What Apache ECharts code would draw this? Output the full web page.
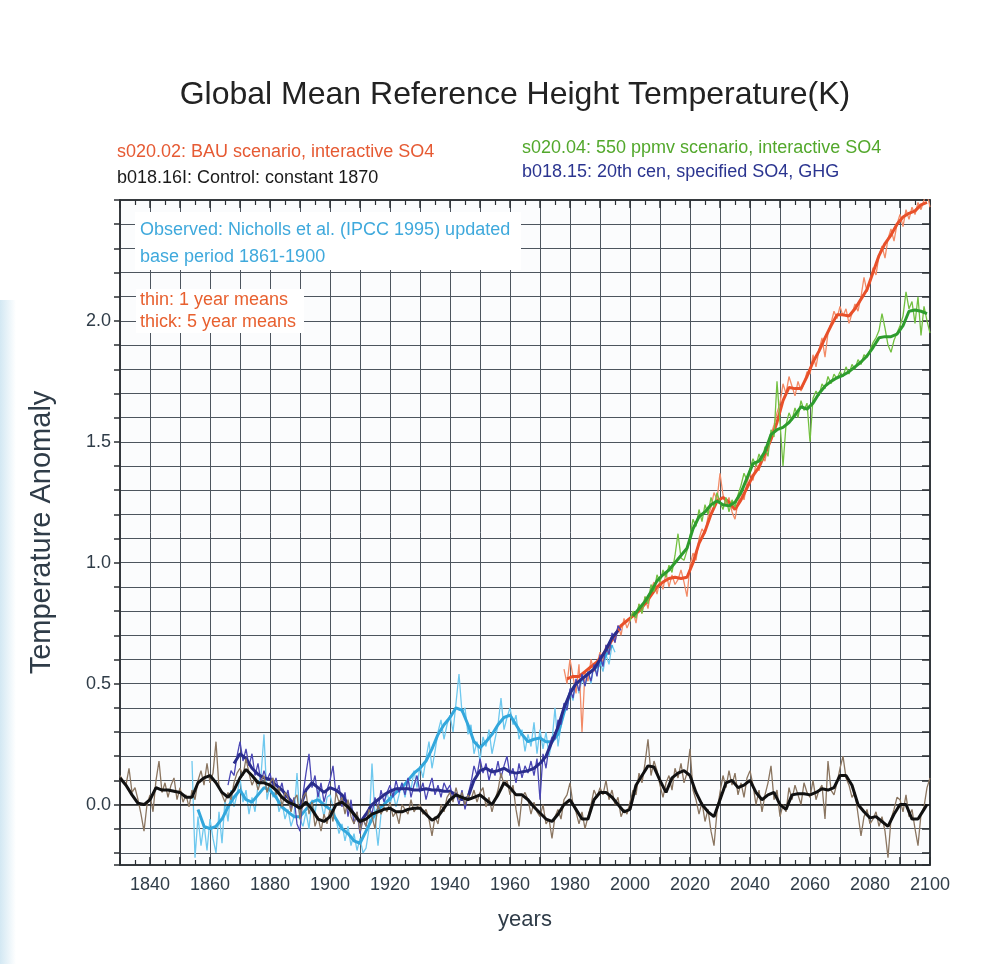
<!DOCTYPE html>
<html>
<head>
<meta charset="utf-8">
<title>Global Mean Reference Height Temperature</title>
<script src="https://cdn.jsdelivr.net/npm/echarts@6/dist/echarts.min.js"></script>
<style>
  html, body { margin: 0; padding: 0; background: #fff; }
  #chart { width: 985px; height: 964px; }
</style>
</head>
<body>
<div id="chart"></div>
<script>
// x axis: years, y axis: temperature anomaly (K)
const yearMin = 1830
const yearMax = 2100
const anomalyMin = -0.25
const anomalyMax = 2.5

// b018.16I control run, thick = 5 year means
const controlThickYears = [1830, 1832, 1834, 1836, 1838, 1840, 1842, 1844, 1846, 1848, 1850, 1852, 1854, 1856, 1858, 1860, 1862, 1864, 1866, 1868,
  1870, 1872, 1874, 1876, 1878, 1880, 1882, 1884, 1886, 1888, 1890, 1892, 1894, 1896, 1898, 1900, 1902, 1904, 1906, 1908,
  1910, 1912, 1914, 1916, 1918, 1920, 1922, 1924, 1926, 1928, 1930, 1932, 1934, 1936, 1938, 1940, 1942, 1944, 1946, 1948,
  1950, 1952, 1954, 1956, 1958, 1960, 1962, 1964, 1966, 1968, 1970, 1972, 1974, 1976, 1978, 1980, 1982, 1984, 1986, 1988,
  1990, 1992, 1994, 1996, 1998, 2000, 2002, 2004, 2006, 2008, 2010, 2012, 2014, 2016, 2018, 2020, 2022, 2024, 2026, 2028,
  2030, 2032, 2034, 2036, 2038, 2040, 2042, 2044, 2046, 2048, 2050, 2052, 2054, 2056, 2058, 2060, 2062, 2064, 2066, 2068,
  2070, 2072, 2074, 2076, 2078, 2080, 2082, 2084, 2086, 2088, 2090, 2092, 2094, 2096, 2098, 2099]
const controlThick = [0.11, 0.08, 0.04, 0.005, 0.0, 0.02, 0.07, 0.06, 0.06, 0.055, 0.05, 0.03, 0.03, 0.09, 0.11, 0.12, 0.09, 0.05, 0.03, 0.06,
  0.11, 0.145, 0.12, 0.09, 0.09, 0.08, 0.06, 0.03, 0.01, 0.0, -0.015, 0.01, -0.02, -0.06, -0.07, -0.05, 0.0, 0.01, -0.01, -0.04,
  -0.07, -0.06, -0.04, -0.03, -0.02, -0.015, -0.03, -0.03, -0.02, -0.015, -0.015, -0.04, -0.065, -0.05, -0.015, 0.02, 0.04, 0.03, 0.02, 0.03,
  0.04, 0.02, 0.0, 0.04, 0.09, 0.07, 0.04, 0.04, 0.02, -0.01, -0.035, -0.06, -0.07, -0.04, 0.0, 0.02, -0.02, -0.06, -0.06, 0.02,
  0.05, 0.05, 0.03, 0.0, -0.03, -0.02, 0.08, 0.12, 0.16, 0.155, 0.1, 0.05, 0.11, 0.13, 0.14, 0.12, 0.05, 0.0, -0.03, -0.05,
  0.02, 0.09, 0.1, 0.07, 0.08, 0.1, 0.05, 0.02, 0.04, 0.05, 0.0, -0.02, 0.04, 0.045, 0.045, 0.04, 0.05, 0.065, 0.06, 0.07,
  0.12, 0.12, 0.08, 0.0, -0.03, -0.055, -0.05, -0.07, -0.09, -0.04, 0.0, 0.0, -0.06, -0.06, -0.02, 0.0]
// thin = 1 year means, one value per year from 1830
const controlThinStart = 1830
const controlThin = [
  0.12, 0.10, 0.08, 0.15, 0.05, 0.07, 0.02, -0.04, -0.11, 0.0,
  0.04, -0.03, 0.10, 0.18, 0.05, 0.09, 0.03, 0.08, 0.11, 0.02,
  0.07, 0.01, 0.04, -0.01, 0.06, 0.02, 0.10, 0.14, 0.08, 0.17,
  0.09, 0.13, 0.26, 0.07, 0.04, 0.01, 0.05, 0.02, 0.09, 0.13,
  0.15, 0.12, 0.19, 0.13, 0.08, 0.11, 0.06, 0.10, 0.12, 0.05,
  0.09, 0.11, 0.04, 0.07, -0.01, 0.05, 0.03, -0.03, 0.02, 0.04,
  -0.06, 0.03, 0.05, -0.04, 0.01, -0.09, -0.05, -0.11, -0.04, -0.08,
  -0.02, -0.07, 0.05, 0.01, 0.03, -0.04, 0.02, -0.05, -0.08, -0.03,
  -0.11, -0.06, -0.09, -0.02, -0.05, -0.10, 0.0, -0.04, -0.01, -0.03,
  0.01, -0.05, -0.03, -0.08, 0.0, -0.02, -0.04, 0.02, -0.03, -0.01,
  0.0, -0.04, -0.02, -0.06, -0.13, -0.05, -0.08, 0.0, -0.03, 0.03,
  0.05, 0.01, 0.07, 0.02, 0.05, 0.0, 0.04, 0.02, 0.06, 0.01,
  0.05, 0.07, -0.01, 0.03, -0.03, 0.02, 0.06, 0.13, 0.08, 0.10,
  0.04, 0.08, -0.02, -0.09, 0.03, 0.05, 0.02, -0.04, 0.01, -0.03,
  -0.05, 0.0, -0.08, -0.06, -0.14, -0.05, -0.02, -0.06, 0.02, 0.04,
  0.09, 0.0, -0.03, -0.08, -0.03, -0.10, -0.05, 0.0, 0.06, 0.03,
  0.07, 0.04, 0.10, 0.02, 0.06, 0.0, 0.03, -0.05, -0.02, -0.04,
  0.01, 0.06, 0.04, 0.13, 0.09, 0.17, 0.27, 0.12, 0.18, 0.14,
  0.08, 0.03, 0.09, 0.12, 0.06, 0.15, 0.11, 0.17, 0.09, 0.13,
  0.23, 0.06, 0.02, -0.04, 0.01, -0.07, -0.02, -0.11, -0.17, -0.03,
  0.05, 0.12, 0.07, 0.14, 0.08, 0.13, 0.04, 0.09, 0.03, 0.11,
  0.14, 0.08, 0.0, 0.06, -0.03, 0.04, 0.09, 0.16, 0.02, 0.06,
  -0.05, 0.0, -0.03, 0.07, 0.02, 0.08, 0.04, 0.0, 0.09, 0.05,
  0.03, 0.10, 0.02, 0.06, 0.08, -0.06, 0.18, 0.06, 0.04, 0.09,
  0.15, 0.20, 0.11, 0.08, 0.03, 0.05, -0.04, -0.13, -0.05, -0.02,
  -0.08, -0.06, -0.03, -0.09, -0.05, -0.11, -0.22, -0.06, -0.02, 0.03,
  0.02, -0.03, 0.04, -0.05, -0.02, -0.10, -0.17, -0.04, -0.01, 0.07, 0.11]

// observed, Nicholls et al. (IPCC 1995)
const observedThickYears = [1856, 1858, 1860, 1862, 1864, 1866, 1868, 1870, 1872, 1874, 1876, 1878, 1880, 1882, 1884, 1886, 1888, 1890, 1892, 1894,
  1896, 1898, 1900, 1902, 1904, 1906, 1908, 1910, 1912, 1914, 1916, 1918, 1920, 1922, 1924, 1926, 1928, 1930, 1932, 1934,
  1936, 1938, 1940, 1942, 1944, 1946, 1948, 1950, 1952, 1954, 1956, 1958, 1960, 1962, 1964, 1966, 1968, 1970, 1972, 1974,
  1976, 1978, 1980, 1982, 1984, 1986, 1988, 1990, 1992, 1994]
const observedThick = [-0.02, -0.09, -0.10, -0.09, -0.06, -0.01, 0.03, 0.06, 0.02, 0.01, 0.04, 0.07, 0.06, 0.03, -0.01, -0.03, -0.05, -0.05, -0.02, 0.01,
  0.02, 0.0, -0.02, -0.06, -0.10, -0.12, -0.15, -0.16, -0.11, -0.06, -0.02, 0.0, 0.025, 0.05, 0.07, 0.10, 0.13, 0.15, 0.18, 0.23,
  0.29, 0.33, 0.36, 0.40, 0.39, 0.33, 0.26, 0.235, 0.26, 0.29, 0.33, 0.36, 0.37, 0.33, 0.29, 0.26, 0.27, 0.275, 0.26, 0.26,
  0.29, 0.38, 0.46, 0.50, 0.52, 0.54, 0.56, 0.58, 0.62, 0.66]
const observedThinStart = 1854
const observedThin = [
  0.18, -0.22, -0.05, -0.17, -0.08, -0.19,
  -0.06, -0.14, -0.20, -0.03, -0.16, 0.02, -0.07, 0.06, -0.01, 0.04,
  0.11, 0.01, 0.06, -0.04, 0.03, -0.03, 0.08, 0.12, 0.29, 0.02,
  0.08, 0.03, 0.06, -0.03, 0.01, -0.06, -0.02, -0.09, -0.05, 0.13,
  -0.06, -0.09, -0.03, -0.10, 0.02, -0.04, 0.06, 0.01, -0.05, 0.03,
  0.04, -0.01, -0.06, -0.12, -0.08, -0.15, -0.09, -0.17, -0.12, -0.19,
  -0.14, -0.20, -0.18, -0.10, 0.17, -0.05, -0.17, -0.04, 0.0, 0.05,
  0.0, 0.05, -0.01, 0.04, 0.09, 0.03, 0.10, 0.06, 0.14, 0.07,
  0.16, 0.11, 0.19, 0.26, 0.15, 0.22, 0.30, 0.35, 0.27, 0.33,
  0.37, 0.30, 0.42, 0.54, 0.38, 0.40, 0.29, 0.33, 0.21, 0.26,
  0.18, 0.28, 0.24, 0.31, 0.21, 0.27, 0.33, 0.44, 0.31, 0.36,
  0.40, 0.33, 0.37, 0.27, 0.31, 0.22, 0.29, 0.24, 0.34, 0.21,
  0.31, 0.23, 0.30, 0.20, 0.26, 0.40, 0.24, 0.33, 0.41, 0.39,
  0.47, 0.43, 0.51, 0.46, 0.52, 0.49, 0.55, 0.50, 0.58, 0.54,
  0.59, 0.55, 0.62, 0.58, 0.66, 0.63]

// b018.15 20th century, specified SO4, GHG
const centuryThickYears = [1868, 1870, 1872, 1874, 1876, 1878, 1880, 1882, 1884, 1886, 1888, 1890, 1892, 1894, 1896, 1898, 1900, 1902, 1904, 1906,
  1908, 1910, 1912, 1914, 1916, 1918, 1920, 1922, 1924, 1926, 1928, 1930, 1932, 1934, 1936, 1938, 1940, 1942, 1944, 1946,
  1948, 1950, 1952, 1954, 1956, 1958, 1960, 1962, 1964, 1966, 1968, 1970, 1972, 1974, 1976, 1978, 1980, 1982, 1984, 1986,
  1988, 1990, 1992, 1994, 1996]
const centuryThick = [0.17, 0.21, 0.19, 0.15, 0.125, 0.11, 0.105, 0.08, 0.06, 0.03, 0.0, -0.015, 0.06, 0.09, 0.07, 0.05, 0.07, 0.06, 0.04, 0.0,
  -0.04, -0.075, -0.04, 0.0, 0.02, 0.04, 0.055, 0.065, 0.065, 0.065, 0.06, 0.06, 0.065, 0.06, 0.06, 0.055, 0.055, 0.04, 0.02, 0.03,
  0.10, 0.14, 0.15, 0.135, 0.14, 0.15, 0.135, 0.13, 0.135, 0.14, 0.15, 0.17, 0.20, 0.26, 0.32, 0.40, 0.46, 0.50, 0.52, 0.54,
  0.56, 0.60, 0.64, 0.69, 0.72]
const centuryThinStart = 1866
const centuryThin = [
  0.08, 0.14, 0.12, 0.20,
  0.26, 0.18, 0.23, 0.16, 0.21, 0.12, 0.17, 0.09, 0.14, 0.10,
  0.13, 0.07, 0.11, 0.05, 0.09, 0.02, 0.06, -0.02, 0.03, -0.08,
  -0.11, 0.04, 0.13, 0.21, 0.07, 0.12, 0.03, 0.09, 0.01, 0.06,
  0.10, 0.16, 0.04, 0.08, -0.01, 0.05, -0.05, 0.02, -0.08, -0.03,
  -0.12, -0.06, -0.09, -0.01, -0.04, 0.03, -0.02, 0.06, 0.01, 0.05,
  0.08, 0.03, 0.10, 0.05, 0.09, 0.04, 0.11, 0.03, 0.08, 0.12,
  0.05, 0.09, 0.02, 0.07, 0.11, 0.04, 0.08, 0.03, 0.09, 0.06,
  0.08, 0.02, 0.05, 0.0, 0.06, -0.02, 0.04, 0.09, 0.16, 0.12,
  0.19, 0.13, 0.17, 0.10, 0.15, 0.12, 0.18, 0.11, 0.16, 0.20,
  0.12, 0.15, 0.09, 0.17, 0.11, 0.16, 0.13, 0.18, 0.12, 0.19,
  0.02, 0.21, 0.15, 0.24, 0.28, 0.27, 0.35, 0.33, 0.42, 0.39,
  0.48, 0.44, 0.52, 0.47, 0.54, 0.49, 0.55, 0.51, 0.58, 0.53,
  0.62, 0.57, 0.66, 0.62, 0.71, 0.67, 0.74, 0.72]

// s020.02 BAU scenario, interactive SO4
const bauThickYears = [1979, 1981, 1983, 1985, 1987, 1989, 1991, 1993, 1995, 1997, 1999, 2001, 2003, 2005, 2007, 2009, 2011, 2013, 2015, 2017,
  2019, 2021, 2023, 2025, 2027, 2029, 2031, 2033, 2035, 2037, 2039, 2041, 2043, 2045, 2047, 2049, 2051, 2053, 2055, 2057,
  2059, 2061, 2063, 2065, 2067, 2069, 2071, 2073, 2075, 2077, 2079, 2081, 2083, 2085, 2087, 2089, 2091, 2093, 2095, 2097, 2099]
const bauThick = [0.52, 0.53, 0.53, 0.55, 0.57, 0.59, 0.62, 0.66, 0.70, 0.74, 0.76, 0.78, 0.80, 0.83, 0.865, 0.90, 0.92, 0.935, 0.94, 0.935,
  0.94, 1.00, 1.08, 1.13, 1.20, 1.255, 1.27, 1.25, 1.22, 1.26, 1.31, 1.36, 1.395, 1.45, 1.51, 1.58, 1.67, 1.725, 1.72, 1.72,
  1.77, 1.83, 1.875, 1.93, 1.98, 2.025, 2.025, 2.02, 2.05, 2.09, 2.13, 2.20, 2.27, 2.32, 2.355, 2.40, 2.43, 2.445, 2.455, 2.48, 2.49]
const bauThinStart = 1978
const bauThin = [
  0.56, 0.50,
  0.60, 0.53, 0.46, 0.58, 0.30, 0.55, 0.51, 0.60, 0.55, 0.58,
  0.63, 0.59, 0.66, 0.62, 0.70, 0.67, 0.74, 0.70, 0.77, 0.73,
  0.76, 0.80, 0.75, 0.83, 0.79, 0.86, 0.81, 0.89, 0.92, 0.87,
  0.93, 0.89, 0.96, 0.90, 0.95, 0.91, 0.93, 0.97, 0.92, 0.86,
  0.99, 1.04, 1.01, 1.10, 1.14, 1.12, 1.19, 1.23, 1.29, 1.26,
  1.37, 1.28, 1.24, 1.27, 1.21, 1.18, 1.25, 1.29, 1.26, 1.33,
  1.37, 1.34, 1.41, 1.38, 1.44, 1.42, 1.49, 1.53, 1.57, 1.62,
  1.66, 1.74, 1.70, 1.77, 1.73, 1.69, 1.75, 1.71, 1.74, 1.79,
  1.78, 1.86, 1.81, 1.88, 1.93, 1.85, 1.95, 1.99, 2.04, 2.01,
  2.06, 2.02, 2.05, 1.99, 2.03, 2.07, 2.04, 2.10, 2.18, 2.12,
  2.16, 2.22, 2.19, 2.27, 2.31, 2.26, 2.34, 2.38, 2.33, 2.40,
  2.44, 2.39, 2.46, 2.42, 2.47, 2.44, 2.49, 2.46, 2.50, 2.53, 2.47]

// s020.04 550 ppmv scenario, interactive SO4
const ppmvThickYears = [2001, 2003, 2005, 2007, 2009, 2011, 2013, 2015, 2017, 2019, 2021, 2023, 2025, 2027, 2029, 2031, 2033, 2035, 2037, 2039,
  2041, 2043, 2045, 2047, 2049, 2051, 2053, 2055, 2057, 2059, 2061, 2063, 2065, 2067, 2069, 2071, 2073, 2075, 2077, 2079,
  2081, 2083, 2085, 2087, 2089, 2091, 2093, 2095, 2097, 2099]
const ppmvThick = [0.78, 0.81, 0.84, 0.88, 0.925, 0.95, 0.97, 1.0, 1.03, 1.06, 1.14, 1.19, 1.21, 1.24, 1.255, 1.24, 1.235, 1.25, 1.29, 1.35,
  1.41, 1.42, 1.46, 1.53, 1.55, 1.56, 1.58, 1.61, 1.645, 1.635, 1.66, 1.70, 1.73, 1.75, 1.765, 1.775, 1.79, 1.81, 1.83, 1.855,
  1.89, 1.93, 1.935, 1.935, 1.945, 1.98, 2.04, 2.045, 2.04, 2.03]
const ppmvThinStart = 2000
const ppmvThin = [
  0.76, 0.80, 0.77, 0.83, 0.79, 0.86, 0.83, 0.91, 0.88, 0.95,
  0.92, 0.97, 0.94, 0.99, 0.96, 1.03, 1.12, 1.02, 1.01, 1.05,
  1.11, 1.18, 1.15, 1.22, 1.17, 1.24, 1.20, 1.27, 1.23, 1.29,
  1.25, 1.22, 1.27, 1.21, 1.26, 1.23, 1.28, 1.32, 1.37, 1.34,
  1.39, 1.43, 1.40, 1.45, 1.42, 1.48, 1.44, 1.55, 1.52, 1.75,
  1.58, 1.40, 1.57, 1.62, 1.59, 1.64, 1.60, 1.67, 1.63, 1.66,
  1.50, 1.68, 1.71, 1.69, 1.74, 1.72, 1.77, 1.74, 1.78, 1.76,
  1.79, 1.77, 1.81, 1.78, 1.82, 1.80, 1.84, 1.82, 1.86, 1.85,
  1.88, 1.91, 1.93, 1.96, 2.03, 1.97, 1.90, 1.87, 1.92, 1.95,
  1.98, 2.02, 2.12, 2.05, 2.08, 1.99, 2.10, 1.94, 2.06, 2.00, 1.95]

const fontFamily = 'Liberation Sans, Arial, Helvetica, sans-serif'
const gridColor = '#4d555e'
const frameColor = '#2b2f33'
const labelColor = '#2f3c48'

function pairs (years, values) {
  return years.map((y, i) => [y, values[i]])
}
function annual (start, values) {
  return values.map((v, i) => [start + i, v])
}
function line (data, color, width, z) {
  return {
    type: 'line',
    data: data,
    showSymbol: false,
    symbol: 'none',
    z: z,
    lineStyle: { color: color, width: width },
    emphasis: { disabled: true },
    silent: true
  }
}

const chart = echarts.init(document.getElementById('chart'), null, { renderer: 'canvas' })

const controlThickSeries = line(pairs(controlThickYears, controlThick), '#111111', 3, 9)
// zero reference line
controlThickSeries.markLine = {
  silent: true,
  symbol: 'none',
  label: { show: false },
  lineStyle: { color: '#1c1c1c', width: 1.5, type: 'solid' },
  data: [{ yAxis: 0 }]
}

const option = {
  animation: false,
  backgroundColor: '#ffffff',
  grid: {
    left: 120,
    right: 55,
    top: 200,
    bottom: 99,
    show: true,
    backgroundColor: '#fbfcfd',
    borderColor: frameColor,
    borderWidth: 1.5
  },
  xAxis: [
    {
      type: 'value',
      min: yearMin,
      max: yearMax,
      interval: 10,
      position: 'bottom',
      name: 'years',
      nameLocation: 'middle',
      nameGap: 44,
      nameTextStyle: { fontFamily: fontFamily, fontSize: 22, color: labelColor },
      axisLine: { show: true, onZero: false, lineStyle: { color: frameColor, width: 1.5 } },
      axisTick: { show: true, inside: true, length: 8, lineStyle: { color: frameColor, width: 1.5 } },
      minorTick: { show: true, splitNumber: 2, length: 5, lineStyle: { color: frameColor, width: 1.2 } },
      splitLine: { show: true, lineStyle: { color: gridColor, width: 1 } },
      axisLabel: {
        margin: 11,
        fontFamily: fontFamily,
        fontSize: 18,
        color: labelColor,
        formatter: v => (v % 20 === 0 ? String(v) : '')
      }
    },
    {
      type: 'value',
      min: yearMin,
      max: yearMax,
      interval: 10,
      position: 'top',
      axisLine: { show: true, onZero: false, lineStyle: { color: frameColor, width: 1.5 } },
      axisTick: { show: true, inside: true, length: 8, lineStyle: { color: frameColor, width: 1.5 } },
      minorTick: { show: true, splitNumber: 2, length: 5, lineStyle: { color: frameColor, width: 1.2 } },
      splitLine: { show: false },
      axisLabel: { show: false }
    }
  ],
  yAxis: [
    {
      type: 'value',
      min: anomalyMin,
      max: anomalyMax,
      minInterval: 0.1,
      maxInterval: 0.1,
      position: 'left',
      name: 'Temperature Anomaly',
      nameLocation: 'middle',
      nameRotate: 90,
      nameGap: 64,
      nameTextStyle: { fontFamily: fontFamily, fontSize: 29, color: labelColor },
      axisLine: { show: true, onZero: false, lineStyle: { color: frameColor, width: 1.5 } },
      axisTick: { show: true, inside: false, length: 6, lineStyle: { color: frameColor, width: 1.5 } },
      splitLine: { show: true, lineStyle: { color: gridColor, width: 1 } },
      axisLabel: {
        margin: 9,
        fontFamily: fontFamily,
        fontSize: 18,
        color: labelColor,
        formatter: v => {
          const t = Math.round(v * 10)
          if (Math.abs(v * 10 - t) > 1e-6 || t % 5 !== 0 || t < 0 || t > 20) return ''
          return (t / 10).toFixed(1)
        }
      }
    },
    {
      type: 'value',
      min: anomalyMin,
      max: anomalyMax,
      minInterval: 0.1,
      maxInterval: 0.1,
      position: 'right',
      axisLine: { show: true, onZero: false, lineStyle: { color: frameColor, width: 1.5 } },
      axisTick: { show: true, inside: true, length: 8, lineStyle: { color: frameColor, width: 1.5 } },
      splitLine: { show: false },
      axisLabel: { show: false }
    }
  ],
  series: [
    line(annual(observedThinStart, observedThin), '#6ec8ee', 1.3, 2),
    line(pairs(observedThickYears, observedThick), '#33a7dc', 3, 3),
    line(annual(bauThinStart, bauThin), '#f28a66', 1.3, 4),
    line(pairs(bauThickYears, bauThick), '#e8502a', 3, 5),
    line(annual(centuryThinStart, centuryThin), '#4a46b4', 1.3, 6),
    line(pairs(centuryThickYears, centuryThick), '#2a2d8c', 3, 7),
    line(annual(controlThinStart, controlThin), '#8a7560', 1.3, 8),
    controlThickSeries,
    line(annual(ppmvThinStart, ppmvThin), '#72c040', 1.3, 11),
    line(pairs(ppmvThickYears, ppmvThick), '#2e9c2e', 3, 12)
  ],
  graphic: [
    {
      type: 'rect',
      left: 0,
      top: 300,
      shape: { width: 16, height: 664 },
      style: {
        fill: new echarts.graphic.LinearGradient(0, 0, 1, 0, [
          { offset: 0, color: '#d3e8f3' },
          { offset: 1, color: '#ffffff' }
        ])
      },
      silent: true
    },
    {
      type: 'text',
      x: 515,
      y: 95,
      style: {
        text: 'Global Mean Reference Height Temperature(K)',
        fill: '#222',
        font: '32px ' + fontFamily,
        textAlign: 'center',
        textVerticalAlign: 'middle'
      }
    },
    {
      type: 'text',
      x: 117,
      y: 152,
      style: { text: 's020.02: BAU scenario, interactive SO4', fill: '#e65a33', font: '18px ' + fontFamily, textVerticalAlign: 'middle' }
    },
    {
      type: 'text',
      x: 117,
      y: 178,
      style: { text: 'b018.16I: Control: constant 1870', fill: '#1a1a1a', font: '18px ' + fontFamily, textVerticalAlign: 'middle' }
    },
    {
      type: 'text',
      x: 522,
      y: 148,
      style: { text: 's020.04: 550 ppmv scenario, interactive SO4', fill: '#53a82c', font: '18px ' + fontFamily, textVerticalAlign: 'middle' }
    },
    {
      type: 'text',
      x: 522,
      y: 172,
      style: { text: 'b018.15: 20th cen, specified SO4, GHG', fill: '#2b3590', font: '18px ' + fontFamily, textVerticalAlign: 'middle' }
    },
    {
      type: 'rect',
      shape: { x: 135, y: 212, width: 386, height: 58 },
      style: { fill: '#ffffff' },
      z: 50
    },
    {
      type: 'text',
      x: 140,
      y: 230,
      z: 51,
      style: { text: 'Observed: Nicholls et al. (IPCC 1995) updated', fill: '#3fa9dc', font: '18px ' + fontFamily, textVerticalAlign: 'middle' }
    },
    {
      type: 'text',
      x: 140,
      y: 257,
      z: 51,
      style: { text: 'base period 1861-1900', fill: '#3fa9dc', font: '18px ' + fontFamily, textVerticalAlign: 'middle' }
    },
    {
      type: 'rect',
      shape: { x: 136, y: 289, width: 168, height: 44 },
      style: { fill: '#ffffff' },
      z: 50
    },
    {
      type: 'text',
      x: 140,
      y: 300,
      z: 51,
      style: { text: 'thin: 1 year means', fill: '#e8602f', font: '18px ' + fontFamily, textVerticalAlign: 'middle' }
    },
    {
      type: 'text',
      x: 140,
      y: 322,
      z: 51,
      style: { text: 'thick: 5 year means', fill: '#e8602f', font: '18px ' + fontFamily, textVerticalAlign: 'middle' }
    }
  ]
}

chart.setOption(option)
</script>
</body>
</html>
